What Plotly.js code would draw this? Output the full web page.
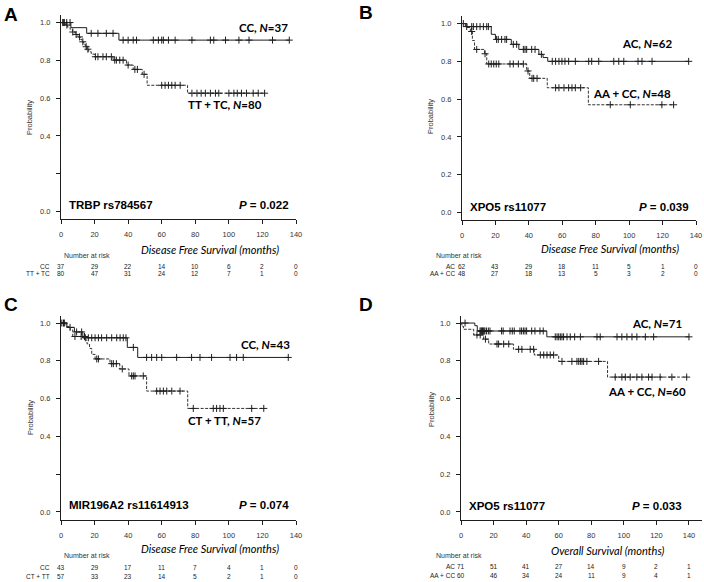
<!DOCTYPE html>
<html><head><meta charset="utf-8">
<script src="https://cdn.plot.ly/plotly-3.0.1.min.js"></script>
<style>html,body{margin:0;padding:0;background:#fff;}#chart{width:704px;height:582px;}</style>
</head><body><div id="chart"></div>
<script>
// ---------- DATA ----------
const riskTimes = [0, 20, 40, 60, 80, 100, 120, 140];
const xTickVals = [0, 20, 40, 60, 80, 100, 120, 140];
const yTickVals = [0, 0.2, 0.4, 0.6, 0.8, 1.0];
const yTickTextFull = ['0.0', '0.2', '0.4', '0.6', '0.8', '1.0'];
const yTickTextNo02 = ['0.0', '', '0.4', '0.6', '0.8', '1.0'];

// Panel A: TRBP rs784567 (DFS)
const aCCTimes = [5.9, 15.3, 34.5];
const aCCSurv = [0.973, 0.943, 0.907];
const aCCEnd = 136;
const aCCCens = [1.4, 3.4, 5.4, 18, 22, 27, 31, 37, 40, 43, 45, 55, 58, 60, 61, 64, 68, 78, 89, 91, 98, 106, 112, 126, 136];
const aTTTimes = [2.5, 4, 5.5, 7, 8.5, 10, 11.5, 12.5, 13.5, 14.5, 15.5, 16.5, 18, 20, 31, 39, 43, 48.4, 51.3, 75.4];
const aTTSurv = [0.987, 0.975, 0.962, 0.95, 0.937, 0.924, 0.911, 0.898, 0.885, 0.872, 0.859, 0.846, 0.833, 0.819, 0.801, 0.775, 0.752, 0.726, 0.668, 0.626];
const aTTEnd = 121.3;
const aTTCens = [1, 2, 3.5, 7, 9, 11, 13, 15, 16, 20.5, 22, 25, 27, 30, 32, 33, 35, 37, 40, 44, 45.5, 49.5, 60, 62, 64, 66, 68, 71, 78, 81, 83.5, 86, 89, 92, 94, 100, 103, 105, 107.5, 110.5, 114.5, 117.5, 121.3];
const riskA_CC = [37, 29, 22, 14, 10, 6, 2, 0];
const riskA_TT = [80, 47, 31, 24, 12, 7, 1, 0];

// Panel B: XPO5 rs11077 (DFS)
const bACTimes = [2, 17.5, 20, 29.5, 34, 46, 48.5, 51.3];
const bACSurv = [0.984, 0.943, 0.916, 0.890, 0.863, 0.837, 0.82, 0.80];
const bACEnd = 135.6;
const bACCens = [0.8, 2.8, 5.8, 6.8, 8.8, 10.8, 12.8, 14.8, 15.8, 20.7, 21.7, 23.7, 25.7, 26.7, 30.7, 32.7, 36.7, 37.7, 38.7, 41.7, 43.7, 47.5, 54, 56, 58, 59.8, 61.6, 63.8, 67.8, 75.8, 77.6, 81.8, 90.8, 93.8, 96.8, 105.3, 107.7, 113.7, 135.6];
const bAATimes = [3, 5, 6.2, 7.5, 13.5, 14.8, 38.7, 40.5, 51, 75.6];
const bAASurv = [0.979, 0.958, 0.91, 0.863, 0.84, 0.786, 0.749, 0.71, 0.66, 0.57];
const bAAEnd = 126.6;
const bAACens = [5.8, 8.8, 13.8, 16, 17.5, 19, 20.5, 22, 28.7, 30.7, 33.7, 36.7, 39.5, 41.9, 42.9, 44.9, 56, 58, 61, 63.8, 65.8, 67.8, 71, 88.7, 100.7, 119.6, 126.6];
const riskB_AC = [62, 43, 29, 18, 11, 5, 1, 0];
const riskB_AA = [48, 27, 18, 13, 5, 3, 2, 0];

// Panel C: MIR196A2 rs11614913 (DFS)
const cCCTimes = [3.5, 8, 13, 39.5, 45.7];
const cCCSurv = [0.977, 0.953, 0.922, 0.871, 0.818];
const cCCEnd = 135.4;
const cCCCens = [0.5, 1.5, 5.4, 9.3, 12.3, 14.5, 16.3, 18.3, 20.3, 22.3, 24.2, 27.2, 30.2, 33.2, 35.2, 37.1, 38.7, 43.1, 51, 54, 57, 60, 68.9, 77.8, 82.8, 89.7, 100.7, 104.6, 108.6, 135.4];
const cCTTimes = [3, 5.5, 7, 14.5, 15.5, 17, 18.3, 20.3, 29.2, 35, 40.5, 51, 75.5];
const cCTSurv = [0.982, 0.964, 0.929, 0.91, 0.89, 0.866, 0.834, 0.81, 0.785, 0.757, 0.72, 0.64, 0.548];
const cCTEnd = 120.8;
const cCTCens = [2, 8.3, 12, 14, 21.3, 22.3, 30.2, 31.2, 33, 36.5, 42.1, 43.1, 44.1, 49, 57, 59, 61, 63, 66, 70.9, 78.8, 90.7, 92.7, 94.7, 96.7, 113.6, 120.8];
const riskC_CC = [43, 29, 17, 11, 7, 4, 1, 0];
const riskC_CT = [57, 33, 23, 14, 5, 2, 1, 0];

// Panel D: XPO5 rs11077 (OS)
const dACTimes = [8.5, 10, 52.7];
const dACSurv = [0.986, 0.958, 0.927];
const dACEnd = 140;
const dACCens = [2.5, 11.7, 12.3, 12.7, 13.2, 13.7, 14.2, 14.7, 15.7, 16.8, 17.8, 24.9, 25.9, 30.1, 31.5, 32.7, 36.2, 37.2, 38.3, 39.3, 40.3, 43.4, 45.4, 48.5, 50.5, 57.9, 59, 60, 61, 62, 63, 65.1, 67.1, 69.8, 73.3, 83.5, 85.5, 95.8, 98.8, 101.9, 105, 108, 113.2, 118.3, 140];
const dAATimes = [0.5, 1.5, 7.8, 13.9, 17, 32.2, 45, 60, 90];
const dAASurv = [0.983, 0.967, 0.937, 0.915, 0.889, 0.861, 0.831, 0.797, 0.714];
const dAAEnd = 138.6;
const dAACens = [9.8, 11.8, 15, 22.1, 23.1, 26.2, 29.3, 35.4, 37.4, 42.5, 44.6, 48.7, 50.8, 52.8, 54.8, 56.9, 62, 68.1, 71.2, 72.3, 73.3, 74.3, 75.3, 77.3, 84.5, 94.7, 98.8, 100.9, 103.9, 108, 111.1, 115.2, 117.3, 122.3, 129.5, 138.6];
const riskD_AC = [71, 51, 41, 27, 14, 9, 2, 1];
const riskD_AA = [60, 46, 34, 24, 11, 9, 4, 1];

// ---------- DRAWING ----------
const W = 704, H = 582;
const X = p => p / W;
const Y = p => 1 - p / H;
const ARIAL = 'Liberation Sans, Arial, sans-serif';
const CALI = 'Lato, Open Sans, sans-serif';
const LINE = '#1e1e1e';

function survAt(times, surv, t) {
  let s = 1;
  for (let i = 0; i < times.length; i++) { if (times[i] <= t) s = surv[i]; }
  return s;
}
const traces = [];
function addCurve(times, surv, end, cens, ax, dashed) {
  const xs = [0].concat(times, [end]);
  const ys = [1].concat(surv, [surv[surv.length - 1]]);
  const xr = 'x' + (ax === 1 ? '' : ax), yr = 'y' + (ax === 1 ? '' : ax);
  traces.push({x: xs, y: ys, xaxis: xr, yaxis: yr, mode: 'lines', type: 'scatter',
    line: {shape: 'hv', color: dashed ? '#333' : LINE, width: 1, dash: dashed ? '3px,1.5px' : 'solid'},
    hoverinfo: 'skip'});
  traces.push({x: cens, y: cens.map(t => survAt(times, surv, t)), xaxis: xr, yaxis: yr,
    mode: 'markers', type: 'scatter',
    marker: {symbol: 'cross-thin-open', size: 5, color: LINE, line: {width: 1, color: LINE}},
    hoverinfo: 'skip'});
}
addCurve(aCCTimes, aCCSurv, aCCEnd, aCCCens, 1, false);
addCurve(aTTTimes, aTTSurv, aTTEnd, aTTCens, 1, true);
addCurve(bACTimes, bACSurv, bACEnd, bACCens, 2, false);
addCurve(bAATimes, bAASurv, bAAEnd, bAACens, 2, true);
addCurve(cCCTimes, cCCSurv, cCCEnd, cCCCens, 3, false);
addCurve(cCTTimes, cCTSurv, cCTEnd, cCTCens, 3, true);
addCurve(dACTimes, dACSurv, dACEnd, dACCens, 4, false);
addCurve(dAATimes, dAASurv, dAAEnd, dAACens, 4, true);

function xAxis(x0, x1, range, anchor) {
  return {domain: [X(x0), X(x1)], range: range, anchor: anchor, tickvals: xTickVals,
    ticktext: xTickVals.map(String), ticks: 'outside', ticklen: 4, tickwidth: 1, tickcolor: LINE,
    showline: true, linecolor: LINE, linewidth: 1, showgrid: false, zeroline: false,
    tickfont: {family: ARIAL, size: 7.5, color: '#333'}, ticklabelstandoff: 4, fixedrange: true};
}
function yAxis(y0, y1, anchor, ttext) {
  return {domain: [Y(y1), Y(y0)], range: [-0.04, 1.04], anchor: anchor, tickvals: yTickVals,
    ticktext: ttext, ticks: 'outside', ticklen: 4, tickwidth: 1, tickcolor: LINE,
    showline: true, linecolor: LINE, linewidth: 1, showgrid: false, zeroline: false,
    tickfont: {family: ARIAL, size: 7.5, color: '#333'}, ticklabelstandoff: 4, fixedrange: true};
}

const ann = [];
function txt(text, px, py, o) {
  ann.push(Object.assign({text: text, x: X(px), y: Y(py), xref: 'paper', yref: 'paper',
    showarrow: false, xanchor: 'left', yanchor: 'middle',
    font: {family: ARIAL, size: 8, color: '#111'}}, o || {}));
}
function riskRow(vals, axNum, py) {
  const xr = 'x' + (axNum === 1 ? '' : axNum);
  riskTimes.forEach((t, i) => {
    ann.push({text: String(vals[i]), x: t, y: Y(py), xref: xr, yref: 'paper', showarrow: false,
      xanchor: 'center', yanchor: 'middle', font: {family: ARIAL, size: 6.5, color: '#222'}});
  });
}
const bold = s => '<b>' + s + '</b>';

// Panel letters
txt(bold('A'), 2, 14, {font: {family: ARIAL, size: 19, color: '#000'}});
txt(bold('B'), 357, 12, {font: {family: ARIAL, size: 19, color: '#000'}});
txt(bold('C'), 2, 304, {font: {family: ARIAL, size: 19, color: '#000'}});
txt(bold('D'), 357, 304, {font: {family: ARIAL, size: 19, color: '#000'}});

const panels = [
  {ax: 1, xl: 61, probX: 30, probY: 117, gene: 'TRBP rs784567', p: '0.022', pRight: 291, geneY: 205,
   l1: 'CC, <i>N</i>=37', l1x: 237, l1y: 27, l2: 'TT + TC, <i>N</i>=80', l2x: 186, l2y: 104,
   xt: 'Disease Free Survival (months)', xtX: 210, xtY: 249, nrX: 62, nrY: 255,
   r1: 'CC', r2: 'TT + TC', rRight: 52, r1y: 266.5, r2y: 273, v1: riskA_CC, v2: riskA_TT},
  {ax: 2, xl: 462, probX: 431, probY: 117, gene: 'XPO5 rs11077', p: '0.039', pRight: 691, geneY: 206.5,
   l1: 'AC, <i>N</i>=62', l1x: 620, l1y: 44, l2: 'AA + CC, <i>N</i>=48', l2x: 591, l2y: 94,
   xt: 'Disease Free Survival (months)', xtX: 610, xtY: 248, nrX: 434, nrY: 255,
   r1: 'AC', r2: 'AA + CC', rRight: 457, r1y: 266.5, r2y: 273, v1: riskB_AC, v2: riskB_AA},
  {ax: 3, xl: 61, probX: 30, probY: 417, gene: 'MIR196A2 rs11614913', p: '0.074', pRight: 291, geneY: 505,
   l1: 'CC, <i>N</i>=43', l1x: 239, l1y: 344, l2: 'CT + TT, <i>N</i>=57', l2x: 186, l2y: 420,
   xt: 'Disease Free Survival (months)', xtX: 210, xtY: 548, nrX: 62, nrY: 555,
   r1: 'CC', r2: 'CT + TT', rRight: 52, r1y: 567.5, r2y: 576.5, v1: riskC_CC, v2: riskC_CT},
  {ax: 4, xl: 461, probX: 431, probY: 410, gene: 'XPO5 rs11077', p: '0.033', pRight: 684, geneY: 506,
   l1: 'AC, <i>N</i>=71', l1x: 630, l1y: 323, l2: 'AA + CC, <i>N</i>=60', l2x: 606, l2y: 391.5,
   xt: 'Overall Survival (months)', xtX: 608, xtY: 550, nrX: 434, nrY: 555,
   r1: 'AC', r2: 'AA + CC', rRight: 457, r1y: 566.5, r2y: 575.5, v1: riskD_AC, v2: riskD_AA}
];
panels.forEach(p => {
  txt('Probability', p.probX, p.probY, {textangle: -90, xanchor: 'center', font: {family: ARIAL, size: 7.5, color: '#333'}});
  txt(bold(p.gene), p.xl + 6, p.geneY, {font: {family: ARIAL, size: 11.5, color: '#000'}});
  txt(bold('<i>P</i> = ' + p.p), p.pRight, p.geneY, {xanchor: 'right', font: {family: ARIAL, size: 11.5, color: '#000'}});
  txt(bold(p.l1), p.l1x, p.l1y, {font: {family: CALI, size: 11.5, color: '#000'}});
  txt(bold(p.l2), p.l2x, p.l2y, {font: {family: CALI, size: 11.5, color: '#000'}});
  txt('<i>' + p.xt + '</i>', p.xtX, p.xtY, {xanchor: 'center', font: {family: CALI, size: 11, color: '#000'}});
  txt('Number at risk', p.nrX, p.nrY, {font: {family: ARIAL, size: 7, color: '#333'}});
  txt(p.r1, p.rRight, p.r1y, {xanchor: 'right', font: {family: ARIAL, size: 6.5, color: '#222'}});
  txt(p.r2, p.rRight, p.r2y, {xanchor: 'right', font: {family: ARIAL, size: 6.5, color: '#222'}});
  riskRow(p.v1, p.ax, p.r1y);
  riskRow(p.v2, p.ax, p.r2y);
});

const layout = {
  width: W, height: H, margin: {l: 0, r: 0, t: 0, b: 0},
  paper_bgcolor: '#fff', plot_bgcolor: 'rgba(0,0,0,0)', showlegend: false,
  xaxis: xAxis(61, 296, [0, 140], 'y'),
  yaxis: yAxis(15, 219, 'x', yTickTextNo02),
  xaxis2: xAxis(462, 696, [0, 140], 'y2'),
  yaxis2: yAxis(16, 220, 'x2', yTickTextFull),
  xaxis3: xAxis(61, 296, [0, 140], 'y3'),
  yaxis3: yAxis(315.5, 519.5, 'x3', yTickTextNo02),
  xaxis4: xAxis(461, 702, [0, 148], 'y4'),
  yaxis4: yAxis(315.5, 519.5, 'x4', yTickTextFull),
  annotations: ann
};
Plotly.newPlot('chart', traces, layout, {staticPlot: true, displayModeBar: false});
</script></body></html>
